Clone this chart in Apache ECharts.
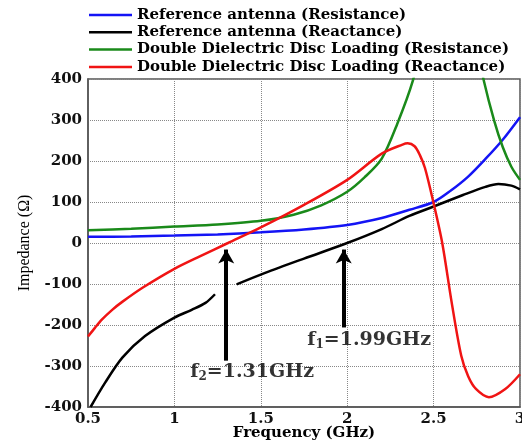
<!DOCTYPE html>
<html>
<head>
<meta charset="utf-8">
<script src="https://cdn.jsdelivr.net/npm/echarts@6/dist/echarts.min.js"></script>
<style>html,body{margin:0;padding:0;background:#fff;}#c{width:522px;height:445px;}</style>
</head>
<body>
<div id="c"></div>
<script>
// ---- data ----
var seriesNames = [
  'Reference antenna (Resistance)',
  'Reference antenna (Reactance)',
  'Double Dielectric Disc Loading (Resistance)',
  'Double Dielectric Disc Loading (Reactance)'
];
var xTicks = [0.5, 1, 1.5, 2, 2.5, 3];
var yTicks = [-400, -300, -200, -100, 0, 100, 200, 300, 400];

var refResF = [0.5, 0.75, 1.0, 1.25, 1.5, 1.75, 2.0, 2.2, 2.36, 2.5, 2.6, 2.7, 2.8, 2.9, 3.0];
var refResV = [15, 16, 18, 21, 26, 33, 44, 61, 81, 100, 128, 162, 205, 252, 307];

var refReactF = [0.515, 0.6, 0.7, 0.83, 1.0, 1.1, 1.18, 1.235, 1.3, 1.36, 1.525, 1.75, 2.0, 2.2, 2.36, 2.5, 2.67, 2.8, 2.875, 2.95, 3.0];
var refReactV = [-400, -340, -279, -227, -182, -163, -146, -125, null, -101, -73, -38, 0, 34, 66, 89, 117, 137, 144, 140, 131];

var ddResF = [0.5, 0.75, 1.0, 1.25, 1.5, 1.69, 1.85, 2.0, 2.1, 2.2, 2.29, 2.38, 2.45, 2.55, 2.65, 2.75, 2.79, 2.85, 2.9, 2.95, 3.0];
var ddResV = [31, 35, 40, 45, 54, 69, 92, 125, 160, 206, 291, 396, 520, 650, 640, 480, 397, 299, 234, 186, 154];

var ddReactF = [0.5, 0.54, 0.58, 0.64, 0.7, 0.82, 1.0, 1.15, 1.31, 1.5, 1.75, 2.0, 2.2, 2.32, 2.35, 2.39, 2.42, 2.45, 2.5, 2.55, 2.605, 2.66, 2.7, 2.745, 2.82, 2.915, 3.0];
var ddReactV = [-228, -207, -187, -163, -143, -108, -63, -32, 0, 38, 93, 154, 218, 240, 243, 236, 215, 183, 97, 0, -146, -275, -325, -356, -376, -356, -320];

// annotations: arrows and labels
var arrowF = [1.30, 1.98];
var arrowFrom = [-287, -206];
var arrowTo = [-16, -16];
var labelF = [1.45, 2.127];
var labelV = [-315, -237];
var labelSub = ['2', '1'];
var labelText = ['=1.31GHz', '=1.99GHz'];

function zip(f, v) {
  return f.map(function (x, i) { return [x, v[i] === null ? '-' : v[i]]; });
}

var serif = 'DejaVu Serif';
var chart = echarts.init(document.getElementById('c'), null, {renderer: 'canvas'});

var colors = ['#1414f5', '#000000', '#1a8a1a', '#f01414'];
var datasets = [zip(refResF, refResV), zip(refReactF, refReactV), zip(ddResF, ddResV), zip(ddReactF, ddReactV)];

var series = datasets.map(function (d, i) {
  return {
    name: seriesNames[i],
    type: 'line',
    data: d,
    showSymbol: false,
    smooth: 0.3,
    clip: true,
    z: 3,
    lineStyle: {color: colors[i], width: 2.5},
    itemStyle: {color: colors[i]}
  };
});

// arrows
series.push({
  name: 'arrows',
  type: 'line',
  data: [],
  silent: true,
  markLine: {
    silent: true,
    symbol: ['none', 'arrow'],
    symbolSize: [12, 14],
    label: {show: false},
    lineStyle: {color: '#000', width: 4, type: 'solid'},
    data: arrowF.map(function (f, i) {
      return [{coord: [f, arrowFrom[i]]}, {coord: [f, arrowTo[i]]}];
    })
  }
});

// labels
series.push({
  name: 'labels',
  type: 'scatter',
  symbolSize: 0,
  silent: true,
  data: labelF.map(function (f, i) { return {value: [f, labelV[i]], sub: labelSub[i], rest: labelText[i]}; }),
  label: {
    show: true,
    position: 'inside',
    formatter: function (p) { return '{a|f}{b|' + p.data.sub + '}{a|' + p.data.rest + '}'; },
    rich: {
      a: {fontFamily: serif, fontWeight: 'bold', fontSize: 19, color: '#000', lineHeight: 22},
      b: {fontFamily: serif, fontWeight: 'bold', fontSize: 12, color: '#000', lineHeight: 22, padding: [9, 0, 0, 0]}
    }
  }
});

chart.setOption({
  animation: false,
  backgroundColor: '#fff',
  legend: {
    data: seriesNames,
    orient: 'vertical',
    left: 89,
    top: 6.5,
    padding: 0,
    itemGap: 0.3,
    itemWidth: 43,
    itemHeight: 2.5,
    icon: 'rect',
    selectedMode: false,
    textStyle: {fontFamily: serif, fontWeight: 'bold', fontSize: 15, color: '#000', lineHeight: 17}
  },
  grid: {
    left: 88, right: 2, top: 79, bottom: 38,
    outerBoundsMode: 'none',
    containLabel: false,
    show: true, borderColor: '#555', borderWidth: 1.5, backgroundColor: 'transparent'
  },
  xAxis: {
    type: 'value',
    min: xTicks[0], max: xTicks[xTicks.length - 1], interval: 0.5,
    name: 'Frequency (GHz)',
    nameLocation: 'middle',
    nameGap: 19,
    nameMoveOverlap: false,
    nameTextStyle: {fontFamily: serif, fontWeight: 'bold', fontSize: 15, color: '#000'},
    axisLine: {show: true, onZero: false, lineStyle: {color: '#555', width: 1.5}},
    axisTick: {show: false},
    axisLabel: {margin: 5, fontFamily: serif, fontWeight: 'bold', fontSize: 15, color: '#111'},
    splitLine: {show: true, lineStyle: {color: '#888', type: 'dotted', width: 1}}
  },
  yAxis: {
    type: 'value',
    min: yTicks[0], max: yTicks[yTicks.length - 1], interval: 100,
    name: 'Impedance (Ω)',
    nameLocation: 'middle',
    nameGap: 55,
    nameRotate: 90,
    nameMoveOverlap: false,
    nameTextStyle: {fontFamily: 'Liberation Serif', fontWeight: 'normal', fontSize: 16, color: '#000'},
    axisLine: {show: true, onZero: false, lineStyle: {color: '#555', width: 1.5}},
    axisTick: {show: false},
    axisLabel: {margin: 6, fontFamily: serif, fontWeight: 'bold', fontSize: 15, color: '#111'},
    splitLine: {show: true, lineStyle: {color: '#888', type: 'dotted', width: 1}}
  },
  series: series
});
</script>
</body>
</html>
